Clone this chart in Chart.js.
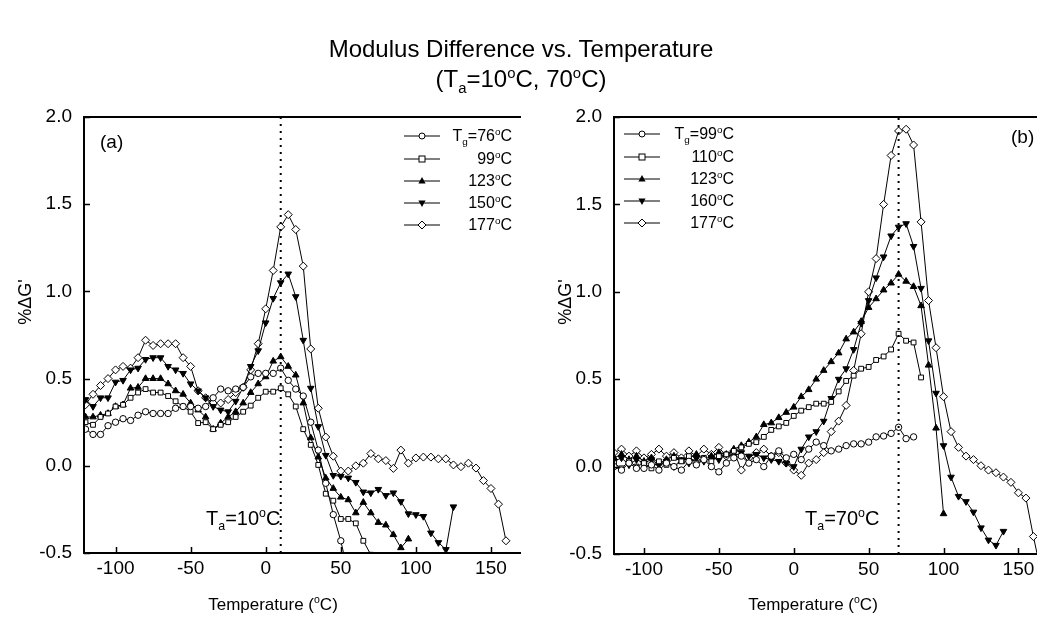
<!DOCTYPE html>
<html>
<head>
<meta charset="utf-8">
<script src="https://cdn.jsdelivr.net/npm/chart.js@4/dist/chart.umd.min.js"></script>
<style>
  html, body { margin:0; padding:0; background:#fff; }
  body { width:1042px; height:629px; position:relative; overflow:hidden; font-family:"Liberation Sans", Arial, sans-serif; color:#000; }
  canvas { position:absolute; top:0; }
  .txt { position:absolute; white-space:nowrap; line-height:1; }
  .sup { font-size:0.62em; position:relative; top:-0.62em; }
  .sub { font-size:0.62em; position:relative; top:0.4em; }
  .leg { position:absolute; font-size:16px; line-height:1; }
  .leg .row { position:absolute; height:16px; white-space:nowrap; }
  .leg svg { position:absolute; top:3px; left:0; }
  .leg .lab { position:absolute; text-align:right; top:0; }
</style>
</head>
<body>
<canvas id="ca" width="530" height="629" style="left:0;width:530px;height:629px"></canvas>
<canvas id="cb" width="512" height="629" style="left:530px;width:512px;height:629px"></canvas>

<div class="txt" style="left:0;width:1042px;top:37px;text-align:center;font-size:24px;">Modulus Difference vs. Temperature</div>
<div class="txt" style="left:0;width:1042px;top:67px;text-align:center;font-size:24px;">(T<span class="sub">a</span>=10<span class="sup">o</span>C, 70<span class="sup">o</span>C)</div>

<div class="txt" style="left:-25px;top:293px;width:100px;text-align:center;font-size:18px;transform:rotate(-90deg);">%ΔG'</div>
<div class="txt" style="left:515px;top:293px;width:100px;text-align:center;font-size:18px;transform:rotate(-90deg);">%ΔG'</div>

<div class="txt" style="left:173px;top:596px;width:200px;text-align:center;font-size:17px;">Temperature (<span class="sup">o</span>C)</div>
<div class="txt" style="left:713px;top:596px;width:200px;text-align:center;font-size:17px;">Temperature (<span class="sup">o</span>C)</div>

<div class="txt" style="left:100px;top:132px;font-size:19px;">(a)</div>
<div class="txt" style="left:1011px;top:127px;font-size:19px;">(b)</div>

<div class="txt" style="left:206px;top:508px;font-size:20px;">T<span class="sub">a</span>=10<span class="sup">o</span>C</div>
<div class="txt" style="left:805px;top:508px;font-size:20px;">T<span class="sub">a</span>=70<span class="sup">o</span>C</div>

<div id="legA" class="leg" style="left:404px;top:128px;"></div>
<div id="legB" class="leg" style="left:624px;top:126px;"></div>

<script>
// ---------------- DATA ----------------
const temperatures = [-120,-115,-110,-105,-100,-95,-90,-85,-80,-75,-70,-65,-60,-55,-50,-45,-40,-35,-30,-25,-20,-15,-10,-5,0,5,10,15,20,25,30,35,40,45,50,55,60,65,70,75,80,85,90,95,100,105,110,115,120,125,130,135,140,145,150,155,160,165];

const xTickLabels = [-100, -50, 0, 50, 100, 150];
const yTickLabels = [-0.5, 0.0, 0.5, 1.0, 1.5, 2.0];

// Panel (a): Ta = 10 C
const annealTempA = 10;
const labelsA = ["76", "99", "123", "150", "177"];
const a_Tg76  = [0.21,0.18,0.18,0.23,0.25,0.27,0.26,0.29,0.31,0.30,0.30,0.30,0.33,0.34,0.34,0.33,0.34,0.39,0.44,0.43,0.44,0.45,0.51,0.53,0.53,0.53,0.56,0.49,0.44,0.40,0.25,0.09,-0.10,-0.28,-0.43,-0.62];
const a_Tg99  = [0.25,0.235,0.28,0.30,0.34,0.35,0.39,0.42,0.44,0.42,0.42,0.40,0.37,0.34,0.31,0.245,0.25,0.21,0.235,0.25,0.28,0.31,0.345,0.39,0.425,0.425,0.445,0.41,0.34,0.21,0.12,0.005,-0.16,-0.20,-0.305,-0.305,-0.33,-0.43,-0.51];
const a_Tg123 = [0.28,0.28,0.29,0.30,0.34,0.35,0.445,0.45,0.50,0.50,0.50,0.47,0.43,0.41,0.36,0.32,0.28,0.21,0.245,0.28,0.31,0.36,0.42,0.47,0.51,0.60,0.625,0.57,0.52,0.36,0.16,0.05,-0.07,-0.13,-0.18,-0.195,-0.27,-0.21,-0.27,-0.325,-0.34,-0.395,-0.47,-0.42];
const a_Tg150 = [0.38,0.34,0.39,0.39,0.48,0.49,0.55,0.56,0.61,0.62,0.62,0.57,0.55,0.53,0.47,0.43,0.39,0.34,0.32,0.31,0.37,0.45,0.57,0.66,0.82,0.96,1.05,1.10,0.97,0.72,0.445,0.225,0.06,-0.055,-0.06,-0.07,-0.095,-0.15,-0.155,-0.135,-0.17,-0.155,-0.205,-0.275,-0.28,-0.29,-0.385,-0.44,-0.48,-0.235];
const a_Tg177 = [0.35,0.41,0.46,0.50,0.55,0.57,0.56,0.62,0.72,0.69,0.70,0.70,0.70,0.62,0.57,0.43,0.39,0.36,0.36,0.38,0.42,0.45,0.55,0.70,0.90,1.12,1.37,1.44,1.355,1.145,0.67,0.33,0.165,0.055,-0.03,-0.03,0.00,0.015,0.07,0.04,0.03,-0.015,0.09,0.015,0.045,0.05,0.05,0.04,0.04,0.005,-0.005,0.015,-0.013,-0.085,-0.13,-0.22,-0.43];

// Panel (b): Ta = 70 C
const annealTempB = 70;
const labelsB = ["99", "110", "123", "160", "177"];
const b_Tg99  = [0.00,-0.02,0.02,-0.01,-0.01,0.01,-0.02,0.02,0.00,-0.02,0.03,0.01,0.04,0.00,-0.03,0.02,0.05,0.06,0.02,0.04,0.00,0.06,0.09,0.05,0.07,0.04,0.10,0.14,0.12,0.09,0.10,0.12,0.13,0.13,0.14,0.17,0.175,0.19,0.225,0.16,0.17];
const b_Tg110 = [0.02,-0.01,0.03,0.00,0.02,-0.01,0.03,0.01,0.05,0.03,0.06,0.02,0.05,0.03,0.06,0.07,0.09,0.11,0.13,0.14,0.17,0.21,0.23,0.25,0.29,0.32,0.34,0.36,0.36,0.37,0.43,0.49,0.52,0.56,0.57,0.61,0.63,0.67,0.76,0.72,0.71,0.51];
const b_Tg123 = [0.05,0.07,0.04,0.06,0.03,0.05,0.02,0.04,0.06,0.03,0.05,0.07,0.04,0.06,0.08,0.07,0.10,0.12,0.14,0.17,0.24,0.25,0.28,0.31,0.34,0.40,0.44,0.50,0.55,0.60,0.65,0.73,0.77,0.83,0.91,0.96,1.01,1.05,1.10,1.06,1.03,0.92,0.58,0.22,-0.27];
const b_Tg160 = [0.03,0.05,0.01,0.04,0.02,0.04,0.01,0.03,0.00,0.04,0.02,0.05,0.03,0.05,0.04,0.07,0.06,0.08,0.06,0.07,0.05,0.04,0.03,0.02,0.00,0.10,0.17,0.20,0.26,0.39,0.50,0.56,0.67,0.82,0.95,1.08,1.20,1.32,1.37,1.39,1.26,1.02,0.72,0.42,0.12,-0.06,-0.17,-0.20,-0.26,-0.35,-0.42,-0.45,-0.37];
const b_Tg177 = [0.08,0.10,0.06,0.09,0.05,0.07,0.10,0.06,0.08,0.05,0.09,0.06,0.10,0.07,0.11,0.06,0.09,-0.02,0.05,0.08,0.10,0.06,0.08,0.02,-0.02,-0.05,0.02,0.04,0.08,0.20,0.26,0.35,0.55,0.76,1.00,1.19,1.50,1.78,1.92,1.93,1.84,1.40,0.95,0.68,0.40,0.20,0.11,0.06,0.04,0.005,-0.02,-0.035,-0.06,-0.09,-0.15,-0.18,-0.40,-0.60];

// ---------------- STYLES ----------------
const markerStyles = [
  { pointStyle:'circle',   fill:'#fff', rot:0,   r:3.2 },
  { pointStyle:'rect',     fill:'#fff', rot:0,   r:3.4 },
  { pointStyle:'triangle', fill:'#000', rot:0,   r:3.8 },
  { pointStyle:'triangle', fill:'#000', rot:180, r:3.8 },
  { pointStyle:'rectRot',  fill:'#fff', rot:0,   r:4.0 }
];

function toPoints(vals) {
  const out = [];
  vals.forEach((v, i) => { if (v !== null && v !== undefined) out.push({ x: temperatures[i], y: v }); });
  return out;
}

function makeDatasets(seriesList, annealT) {
  const ds = seriesList.map((vals, k) => {
    const m = markerStyles[k];
    return {
      data: toPoints(vals),
      borderColor:'#000', borderWidth:1,
      pointStyle:m.pointStyle, pointRotation:m.rot,
      pointRadius:m.r, pointBorderWidth:1,
      pointBorderColor:'#000', pointBackgroundColor:m.fill,
      tension:0, fill:false
    };
  });
  ds.unshift({
    data:[{x:annealT, y:yTickLabels[0]}, {x:annealT, y:yTickLabels[yTickLabels.length-1]}],
    borderColor:'#000', borderWidth:2, borderDash:[2,5], pointRadius:0, fill:false
  });
  return ds;
}

const frame = {
  id:'frame',
  afterDraw(chart) {
    const ctx = chart.ctx, a = chart.chartArea, xs = chart.scales.x, ys = chart.scales.y;
    ctx.save();
    ctx.strokeStyle = '#000';
    ctx.lineWidth = 2;
    ctx.beginPath();
    ctx.moveTo(a.left - 1, a.top); ctx.lineTo(a.right, a.top);
    ctx.moveTo(a.left, a.top - 1); ctx.lineTo(a.left, a.bottom + 1);
    ctx.moveTo(a.left - 1, a.bottom); ctx.lineTo(a.right, a.bottom);
    ctx.stroke();
    ctx.lineWidth = 1.5;
    ctx.beginPath();
    xTickLabels.forEach(v => { const p = Math.round(xs.getPixelForValue(v)) + 0.5; ctx.moveTo(p, a.bottom); ctx.lineTo(p, a.bottom - 6); });
    yTickLabels.forEach(v => { const p = Math.round(ys.getPixelForValue(v)) + 0.5; ctx.moveTo(a.left, p); ctx.lineTo(a.left + 6, p); });
    ctx.stroke();
    ctx.restore();
  }
};

function makeChart(id, datasets, xmin, xmax, padRight, xAxisH) {
  return new Chart(document.getElementById(id), {
    type:'line',
    data:{ datasets },
    options:{
      responsive:false, animation:false, devicePixelRatio:1,
      layout:{ padding:{ top:117, right:padRight, left:0, bottom:0 } },
      plugins:{ legend:{display:false}, tooltip:{enabled:false} },
      scales:{
        x:{
          type:'linear', min:xmin, max:xmax,
          afterBuildTicks:s => { s.ticks = xTickLabels.map(v => ({value:v})); },
          afterFit:s => { s.height = xAxisH; },
          ticks:{ color:'#000', padding:4, maxRotation:0, font:{family:'"Liberation Sans", Arial, sans-serif', size:19} },
          grid:{ display:false, drawTicks:false },
          border:{ display:false }
        },
        y:{
          type:'linear', min:yTickLabels[0], max:yTickLabels[yTickLabels.length-1],
          afterBuildTicks:s => { s.ticks = yTickLabels.map(v => ({value:v})); },
          afterFit:s => { s.width = 84; },
          ticks:{ color:'#000', padding:12, callback:v => v.toFixed(1), font:{family:'"Liberation Sans", Arial, sans-serif', size:19} },
          grid:{ display:false, drawTicks:false },
          border:{ display:false }
        }
      }
    },
    plugins:[frame]
  });
}

makeChart('ca', makeDatasets([a_Tg76, a_Tg99, a_Tg123, a_Tg150, a_Tg177], annealTempA), -121, 170, 9, 76);
makeChart('cb', makeDatasets([b_Tg99, b_Tg110, b_Tg123, b_Tg160, b_Tg177], annealTempB), -120, 162.4, 1, 75);

// ---------------- LEGENDS (HTML) ----------------
function markerSvg(k) {
  let shape = '';
  const cx = 18, cy = 5;
  if (k === 0) shape = `<circle cx="${cx}" cy="${cy}" r="3" fill="#fff" stroke="#000" stroke-width="1"/>`;
  if (k === 1) shape = `<rect x="${cx-3}" y="${cy-3}" width="6" height="6" fill="#fff" stroke="#000" stroke-width="1"/>`;
  if (k === 2) shape = `<polygon points="${cx},${cy-4} ${cx+3.6},${cy+2.5} ${cx-3.6},${cy+2.5}" fill="#000"/>`;
  if (k === 3) shape = `<polygon points="${cx},${cy+4} ${cx+3.6},${cy-2.5} ${cx-3.6},${cy-2.5}" fill="#000"/>`;
  if (k === 4) shape = `<polygon points="${cx},${cy-4} ${cx+4},${cy} ${cx},${cy+4} ${cx-4},${cy}" fill="#fff" stroke="#000" stroke-width="1"/>`;
  return `<svg width="36" height="10"><line x1="0" y1="5" x2="36" y2="5" stroke="#000" stroke-width="1"/>${shape}</svg>`;
}
function buildLegend(id, labels, textLeft, textWidth) {
  const el = document.getElementById(id);
  const rowY = [0, 23, 45, 67, 89];
  labels.forEach((lab, k) => {
    const row = document.createElement('div');
    row.className = 'row';
    row.style.top = rowY[k] + 'px';
    const txt = (k === 0 ? 'T<span class="sub">g</span>=' : '') + lab + '<span class="sup">o</span>C';
    row.innerHTML = markerSvg(k) + `<div class="lab" style="left:${textLeft}px;width:${textWidth}px">${txt}</div>`;
    el.appendChild(row);
  });
}
buildLegend('legA', labelsA, 44, 64);
buildLegend('legB', labelsB, 42, 68);
</script>
</body>
</html>
